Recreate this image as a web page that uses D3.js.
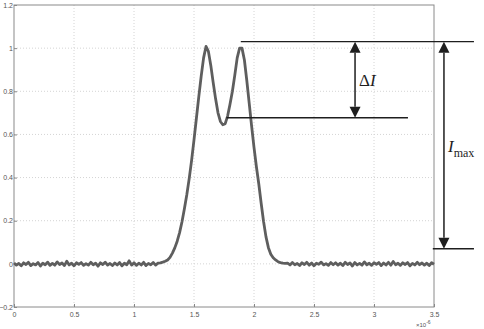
<!DOCTYPE html>
<html>
<head>
<meta charset="utf-8">
<script src="https://cdn.jsdelivr.net/npm/d3@7"></script>
<style>
  body { margin: 0; background: #fff; }
  svg { display: block; }
  .tick text { font-family: "Liberation Sans", Arial, sans-serif; font-size: 7px; fill: #555; }
</style>
</head>
<body>
<div id="chart"></div>
<script>
// sample spacing of the trace (x in units of 1e-6)
const xStep = 0.02;

// x = 0 .. 1.20
const baselineLeft = [0.004,-0.006,0.002,-0.009,0.005,-0.003,0.007,-0.008,0.001,-0.005,
  0.006,-0.010,0.003,-0.004,0.008,-0.007,0.002,-0.006,0.009,-0.003,
  0.004,-0.008,0.012,-0.005,0.003,-0.009,0.005,-0.002,0.006,-0.007,
  0.001,-0.006,0.007,-0.004,0.003,-0.011,0.005,-0.003,0.008,-0.006,
  0.002,-0.008,0.004,-0.005,0.006,-0.009,0.003,-0.004,0.014,-0.006,
  0.005,-0.007,0.003,-0.005,0.007,-0.008,0.002,-0.004,0.006,-0.006,0.003];

// x = 1.22 .. 2.26 (double peak)
const pulse = [0.005,0.008,0.012,0.018,0.030,0.050,0.074,0.105,0.145,0.195,
  0.255,0.320,0.395,0.480,0.575,0.675,0.775,0.870,0.955,1.008,
  0.985,0.920,0.840,0.765,0.700,0.660,0.645,0.650,0.685,0.740,
  0.800,0.875,0.955,1.000,1.000,0.945,0.850,0.745,0.640,0.540,
  0.450,0.370,0.280,0.195,0.125,0.075,0.045,0.028,0.018,0.010,
  0.006,0.003,0.002];

// x = 2.28 .. 3.50
const baselineRight = [0.003,-0.005,0.006,-0.004,0.002,-0.008,0.005,-0.003,0.007,-0.006,
  0.004,-0.009,0.003,-0.002,0.008,-0.005,0.001,-0.007,0.006,-0.004,
  0.005,-0.006,0.003,-0.008,0.007,-0.003,0.004,-0.010,0.006,-0.005,
  0.002,-0.006,0.009,-0.004,0.003,-0.007,0.005,-0.002,0.006,-0.008,
  0.004,-0.005,0.007,-0.006,0.011,-0.004,0.003,-0.007,0.005,-0.003,
  0.006,-0.009,0.002,-0.005,0.007,-0.004,0.004,-0.006,0.003,-0.008,0.005,-0.002];

const xTicks = [0, 0.5, 1, 1.5, 2, 2.5, 3, 3.5];
const yTicks = [-0.2, 0, 0.2, 0.4, 0.6, 0.8, 1, 1.2];

// annotation levels (data units)
const peakTop = 1.03, dipLevel = 0.677, floorLevel = 0.07;
const peakX = 1.89, dipX = 1.77;
const deltaArrowX = 2.842, maxArrowX = 3.583;
const dipLineEnd = 3.283, longLineEnd = 3.833, floorLineStart = 3.49;

const W = 484, H = 329;
const margin = { top: 5, right: 50, bottom: 22, left: 14 };

const signal = baselineLeft.concat(pulse, baselineRight)
  .map((v, i) => ({ x: i * xStep, y: v }));

const svg = d3.select("#chart").append("svg")
  .attr("width", W).attr("height", H);

const x = d3.scaleLinear().domain([0, 3.5]).range([margin.left, W - margin.right]);
const y = d3.scaleLinear().domain([-0.2, 1.2]).range([H - margin.bottom, margin.top]);

// grid
svg.append("g").selectAll("line").data(xTicks.slice(1, -1)).join("line")
  .attr("x1", d => x(d)).attr("x2", d => x(d))
  .attr("y1", y(1.2)).attr("y2", y(-0.2))
  .attr("stroke", "#d4d4d4").attr("stroke-width", 1).attr("stroke-dasharray", "1,2");
svg.append("g").selectAll("line").data(yTicks.slice(1, -1)).join("line")
  .attr("x1", x(0)).attr("x2", x(3.5))
  .attr("y1", d => y(d)).attr("y2", d => y(d))
  .attr("stroke", "#d4d4d4").attr("stroke-width", 1).attr("stroke-dasharray", "1,2");

// axes (MATLAB style, ticks inward)
const xAxis = svg.append("g")
  .attr("transform", "translate(0," + y(-0.2) + ")")
  .call(d3.axisBottom(x).tickValues(xTicks).tickSize(-3).tickPadding(5)
    .tickFormat(d3.format("~g")));
const yAxis = svg.append("g")
  .attr("transform", "translate(" + x(0) + ",0)")
  .call(d3.axisLeft(y).tickValues(yTicks).tickSize(-3).tickPadding(1)
    .tickFormat(d3.format("~g")));
[xAxis, yAxis].forEach(a => {
  a.select(".domain").remove();
  a.selectAll(".tick line").attr("stroke", "#888");
});

// box
svg.append("rect")
  .attr("x", x(0)).attr("y", y(1.2))
  .attr("width", x(3.5) - x(0)).attr("height", y(-0.2) - y(1.2))
  .attr("fill", "none").attr("stroke", "#8a8a8a").attr("stroke-width", 1);

// exponent label
const expo = svg.append("text")
  .attr("x", x(3.5) - 18).attr("y", H - 2)
  .attr("font-family", "Liberation Sans, Arial, sans-serif")
  .attr("font-size", 6).attr("fill", "#555");
expo.append("tspan").text("\u00d710");
expo.append("tspan").attr("dy", -3).attr("font-size", 5).text("-6");

// trace
const line = d3.line().x(d => x(d.x)).y(d => y(d.y));
svg.append("path")
  .datum(signal)
  .attr("d", line)
  .attr("fill", "none")
  .attr("stroke", "#5e5e5e")
  .attr("stroke-width", 2.8)
  .attr("stroke-linejoin", "round");

// annotations
const ink = "#1e1e1e";
const ann = svg.append("g").attr("stroke", ink).attr("stroke-width", 1.4);
ann.append("line").attr("x1", x(peakX)).attr("x2", x(longLineEnd))
  .attr("y1", y(peakTop)).attr("y2", y(peakTop));
ann.append("line").attr("x1", x(dipX)).attr("x2", x(dipLineEnd))
  .attr("y1", y(dipLevel)).attr("y2", y(dipLevel));
ann.append("line").attr("x1", x(floorLineStart)).attr("x2", x(longLineEnd))
  .attr("y1", y(floorLevel)).attr("y2", y(floorLevel));

function doubleArrow(ax, yTop, yBot) {
  const cx = x(ax), t = y(yTop), b = y(yBot), hw = 5.5, hl = 11;
  ann.append("line").attr("x1", cx).attr("x2", cx).attr("y1", t + hl).attr("y2", b - hl)
    .attr("stroke-width", 1.5);
  svg.append("path").attr("fill", ink)
    .attr("d", `M${cx},${t}L${cx - hw},${t + hl}L${cx + hw},${t + hl}Z`);
  svg.append("path").attr("fill", ink)
    .attr("d", `M${cx},${b}L${cx - hw},${b - hl}L${cx + hw},${b - hl}Z`);
}
doubleArrow(deltaArrowX, peakTop, dipLevel);
doubleArrow(maxArrowX, peakTop, floorLevel);

const dl = svg.append("text")
  .attr("x", x(deltaArrowX) + 4).attr("y", y((peakTop + dipLevel) / 2) + 6)
  .attr("font-family", "Liberation Serif, Times New Roman, serif")
  .attr("font-size", 17).attr("fill", ink);
dl.append("tspan").text("\u0394");
dl.append("tspan").attr("font-style", "italic").text("I");

const im = svg.append("text")
  .attr("x", x(maxArrowX) + 4).attr("y", y(0.52))
  .attr("font-family", "Liberation Serif, Times New Roman, serif")
  .attr("font-size", 17).attr("fill", ink);
im.append("tspan").attr("font-style", "italic").text("I");
im.append("tspan").attr("font-size", 12).attr("dy", 5).text("max");
</script>
</body>
</html>
